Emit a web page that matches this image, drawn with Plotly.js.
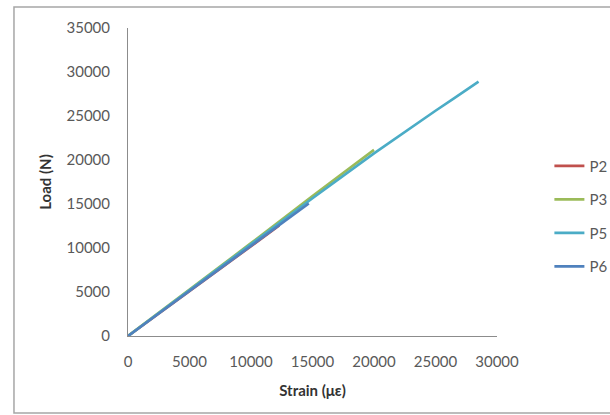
<!DOCTYPE html>
<html>
<head>
<meta charset="utf-8">
<script src="https://cdn.plot.ly/plotly-3.0.1.min.js"></script>
<style>
html,body{margin:0;padding:0;background:#fff;}
#chart{width:610px;height:415px;}
</style>
</head>
<body>
<div id="chart"></div>
<script>
// Data
var seriesNames = ["P2", "P3", "P5", "P6"];
var p2Strain = [0, 5000, 10000, 12300];
var p2Load   = [0, 5100, 10200, 12550];
var p3Strain = [0, 5000, 10000, 15000, 20000];
var p3Load   = [0, 5250, 10550, 15900, 21150];
var p5Strain = [0, 5000, 10000, 15000, 20000, 23000, 25000, 26500, 27200, 28500];
var p5Load   = [0, 5250, 10500, 15650, 20750, 23700, 25600, 27000, 27700, 28900];
var p6Strain = [0, 5000, 10000, 14700];
var p6Load   = [0, 5100, 10200, 15050];
var xTicks = [0, 5000, 10000, 15000, 20000, 25000, 30000];
var yTicks = [0, 5000, 10000, 15000, 20000, 25000, 30000, 35000];

var colors = ["#C0504D", "#9BBB59", "#4BACC6", "#4F81BD"];
var xs = [p2Strain, p3Strain, p5Strain, p6Strain];
var ys = [p2Load, p3Load, p5Load, p6Load];

var traces = seriesNames.map(function(n, i){
  return {
    x: xs[i], y: ys[i], name: n, type: "scatter", mode: "lines",
    legendgroup: n,
    line: {color: colors[i], width: 2.6}
  };
});

var font = "Lato, 'Open Sans', sans-serif";
var layout = {
  width: 610, height: 415,
  margin: {l: 128, r: 113, t: 28, b: 79, autoexpand: false},
  paper_bgcolor: "#fff", plot_bgcolor: "#fff",
  font: {family: font, size: 15, color: "#595959"},
  showlegend: true,
  legend: {
    x: 1.142, y: 0.605, xanchor: "left", yanchor: "top",
    font: {family: font, size: 15, color: "#595959"},
    tracegroupgap: 11,
    bgcolor: "rgba(0,0,0,0)"
  },
  xaxis: {
    range: [0, 30000], tickvals: xTicks, ticktext: xTicks.map(String),
    showline: true, linecolor: "#8c8c8c", linewidth: 1,
    showgrid: false, zeroline: false, ticks: "",
    ticklabelstandoff: 12,
    title: {text: "Strain (με)", font: {family: font, size: 15, color: "#333", weight: "bold"}, standoff: 16}
  },
  yaxis: {
    range: [0, 35000], tickvals: yTicks, ticktext: yTicks.map(String),
    showline: true, linecolor: "#8c8c8c", linewidth: 1,
    showgrid: false, zeroline: false, ticks: "",
    ticklabelstandoff: 14,
    title: {text: "Load (N)", font: {family: font, size: 15, color: "#333", weight: "bold"}, standoff: 11}
  },
  shapes: [{
    type: "rect", xref: "paper", yref: "paper", layer: "below",
    x0: -0.309, x1: 1.32, y0: -0.25, y1: 1.068,
    line: {color: "#a6a6a6", width: 1.5}, fillcolor: "rgba(0,0,0,0)"
  }]
};

Plotly.newPlot("chart", traces, layout, {displayModeBar: false, staticPlot: true});
</script>
</body>
</html>
